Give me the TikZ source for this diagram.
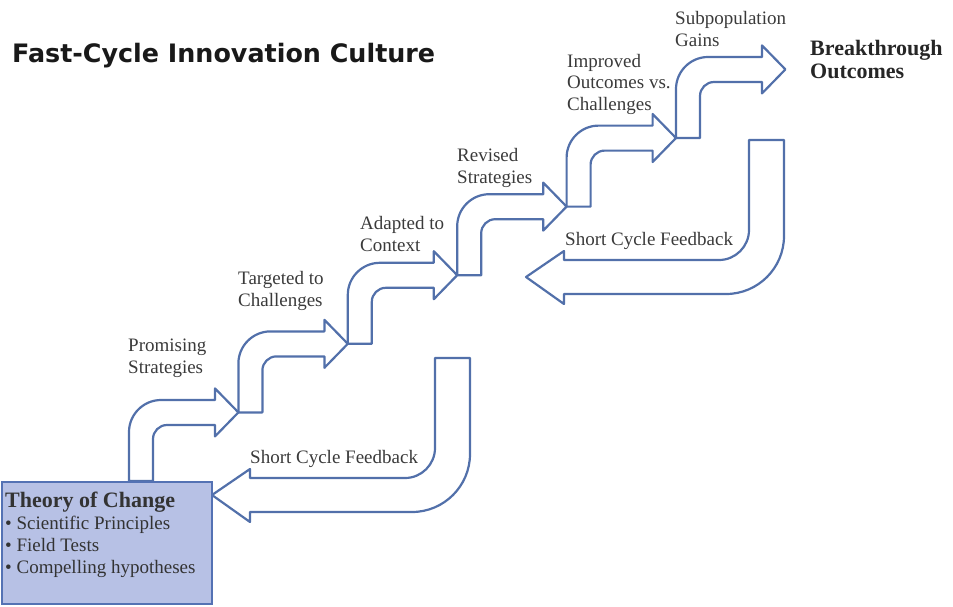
\documentclass[tikz,border=0pt]{standalone}
\usepackage{fontspec}
\setmainfont{Liberation Serif}
\newfontfamily\titlefont{DejaVu Sans}
\definecolor{arrowblue}{RGB}{82,112,170}
\definecolor{boxfill}{RGB}{183,193,229}
\definecolor{boxline}{RGB}{84,114,180}
\definecolor{labelgray}{RGB}{58,58,58}
\tikzset{
  blockarrow/.style={draw=arrowblue, line width=2.2pt, fill=white, line join=round},
  lbl/.style={anchor=base west, inner sep=0pt, align=left, text=labelgray,
    font=\fontsize{19}{21.5}\selectfont},
  boldlbl/.style={anchor=base west, inner sep=0pt, align=left, text=black!85,
    font=\fontsize{22}{23}\selectfont\bfseries},
  stepup/.pic={
    \draw[blockarrow] (0,0) -- (0,-49) .. controls (0,-66.6) and (14.4,-81) .. (32,-81)
      -- (86,-81) -- (86,-92.6) -- (109.4,-68.6) -- (86,-44.6) -- (86,-56)
      -- (38,-56) .. controls (30.3,-56) and (24,-49.7) .. (24,-42) -- (24,0) -- cycle;
  },
  feedback/.pic={
    \draw[blockarrow] (-35,0) -- (0,0) -- (0,96) .. controls (0,128) and (-26,154) .. (-58,154)
      -- (-220,154) -- (-220,164) -- (-258,137) -- (-220,111) -- (-220,120)
      -- (-65,120) .. controls (-48.5,120) and (-35,106.5) .. (-35,90) -- cycle;
  }
}
\begin{document}
\begin{tikzpicture}[x=1pt,y=-1pt]
\useasboundingbox (0,0) rectangle (953,606);

% title
\node[anchor=base west, inner sep=0pt, text=black!90] (title) at (12,62)
  {\resizebox{423pt}{!}{\titlefont\bfseries Fast-Cycle Innovation Culture}};

% step arrows
\pic (s1) at (129,481) {stepup};
\pic (s2) at (238.4,412.4) {stepup};
\pic (s3) at (347.8,343.8) {stepup};
\pic (s4) at (457.2,275.2) {stepup};
\pic (s5) at (566.6,206.6) {stepup};
\pic (s6) at (676,138) {stepup};

% feedback arrows
\pic (f1) at (470,358) {feedback};
\pic (f2) at (784,140) {feedback};

% theory box
\node[draw=boxline, fill=boxfill, line width=2.2pt, minimum width=210pt, minimum height=122pt,
  anchor=north west, inner sep=0pt] (box) at (1,481) {};
\node[lbl, text=black!80, font=\fontsize{19}{21.7}\selectfont] (theory) at (5,573)
  {{\fontsize{22}{21.7}\selectfont\bfseries Theory of Change}\\
   • Scientific Principles\\
   • Field Tests\\
   • Compelling hypotheses};

% labels (anchored at the baseline of their last line)
\node[lbl] (l1) at (128,373) {Promising\\Strategies};
\node[lbl] (l2) at (238,306) {Targeted to\\Challenges};
\node[lbl] (l3) at (360,251) {Adapted to\\Context};
\node[lbl] (l4) at (457,183) {Revised\\Strategies};
\node[lbl] (l5) at (567,110) {Improved\\Outcomes vs.\\Challenges};
\node[lbl] (l6) at (675,46) {Subpopulation\\Gains};
\node[boldlbl] (l7) at (810,78) {Breakthrough\\Outcomes};
\node[lbl] (fb1) at (250,463) {Short Cycle Feedback};
\node[lbl] (fb2) at (565,245) {Short Cycle Feedback};
\end{tikzpicture}
\end{document}
